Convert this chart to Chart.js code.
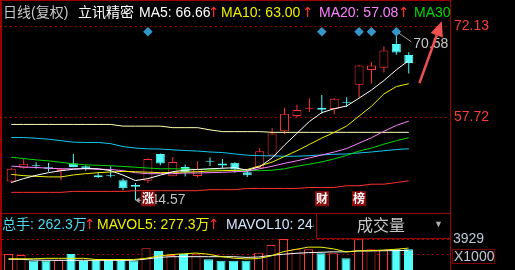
<!DOCTYPE html>
<html>
<head>
<meta charset="utf-8">
<title>立讯精密 日线</title>
<script src="https://cdn.jsdelivr.net/npm/chart.js@4.4.1/dist/chart.umd.min.js"></script>
<style>
  html, body { margin: 0; padding: 0; background: #000; }
  #wrap { position: relative; width: 515px; height: 270px; overflow: hidden; background: #000;
          font-family: "Liberation Sans", Arial, "Noto Sans CJK SC", sans-serif; font-size: 14px; }
  canvas { position: absolute; left: 0; }
  #main { top: 0; }
  #vol { top: 213px; }
  .row { position: absolute; overflow: hidden; }
  .t { position: absolute; white-space: nowrap; line-height: 14px; }
  .up { color: #ff3030; font-family: "DejaVu Sans", sans-serif; font-size: 14px; }
  .ln { position: absolute; background: #a00000; }
</style>
</head>
<body>
<div id="wrap">
  <canvas id="main" width="515" height="213"></canvas>
  <canvas id="vol" width="515" height="57"></canvas>

  <!-- frame -->
  <div class="ln" style="left:0;top:0;width:2px;height:270px"></div>
  <div class="ln" style="left:0;top:0;width:451px;height:1px"></div>
  <div class="ln" style="left:450px;top:0;width:1px;height:270px"></div>
  <div class="ln" style="left:0;top:213px;width:450px;height:1px"></div>
  <div class="ln" style="left:316px;top:213px;width:1px;height:25px"></div>
  <div class="ln" style="left:316px;top:238px;width:134px;height:1px"></div>

  <!-- price header -->
  <div class="row" style="left:0;top:0;width:450px;height:25px">
    <div class="t" style="left:3px;top:5px;color:#c8c8c8">日线(复权)</div>
    <div class="t" style="left:78px;top:5px;color:#fff">立讯精密</div>
    <div class="t" id="h-ma5" style="left:139px;top:5px;color:#fff"></div>
    <div class="t up" style="left:208px;top:5px">↑</div>
    <div class="t" id="h-ma10" style="left:221px;top:5px;color:#f0f000"></div>
    <div class="t up" style="left:302px;top:5px">↑</div>
    <div class="t" id="h-ma20" style="left:319px;top:5px;color:#ff80ff"></div>
    <div class="t up" style="left:398px;top:5px">↑</div>
    <div class="t" style="left:414px;top:5px;color:#00d800">MA30</div>
  </div>

  <!-- volume header -->
  <div class="row" style="left:0;top:214px;width:314px;height:24px">
    <div class="t" id="h-vol" style="left:2px;top:3px;color:#50d8f0"></div>
    <div class="t up" style="left:84px;top:3px">↑</div>
    <div class="t" id="h-mavol5" style="left:97px;top:3px;color:#f0f000"></div>
    <div class="t up" style="left:208px;top:3px">↑</div>
    <div class="t" id="h-mavol10" style="left:226px;top:3px;color:#d0e4ff"></div>
  </div>
  <div class="t" style="left:357px;top:218px;font-size:16px;line-height:16px;color:#c8c8c8">成交量</div>
  <div class="t" style="left:434px;top:220px;font-size:9px;line-height:9px;color:#b0b0b0">▼</div>

  <div class="t" style="left:452px;top:249px;width:43px;height:15px;box-sizing:border-box;border:1px solid #800000;color:#c0c8d0;padding-left:1px;line-height:13px">X1000</div>
</div>

<script>
// ── price data, one entry per trading day (oldest first)
const openP  = [47.53, 49.71, 50.02, 49.79, 49.16, 50.41, 49.94, 48.51, 48.46, 47.73, 46.98, 47.64, 51.89, 48.38, 49.82, 48.42, 50.72, 50.38, 50.49, 49.01, 49.71, 51.65, 55.47, 57.91, 59.05, 59.21, 59.00, 60.06, 62.83, 65.17, 65.54, 69.28, 67.54];
const highP  = [49.71, 51.11, 50.56, 50.49, 49.55, 51.89, 50.10, 49.01, 49.94, 47.99, 47.29, 51.19, 51.97, 51.42, 50.22, 50.75, 51.34, 51.11, 50.56, 49.19, 52.82, 55.94, 59.21, 59.67, 60.72, 61.23, 60.76, 60.87, 65.98, 66.42, 68.91, 70.58, 67.97];
const lowP   = [47.37, 49.55, 49.55, 49.08, 47.73, 49.79, 49.24, 48.07, 48.15, 46.20, 44.57, 47.29, 50.10, 48.35, 48.31, 48.15, 49.97, 49.60, 48.93, 48.26, 49.63, 51.62, 55.00, 57.65, 58.54, 58.27, 58.19, 59.32, 60.76, 63.05, 64.76, 67.57, 64.61];
const closeP = [49.55, 50.33, 49.94, 49.55, 49.47, 49.82, 49.55, 48.23, 48.38, 46.48, 46.70, 51.11, 50.38, 50.60, 49.01, 49.47, 50.64, 50.07, 49.44, 48.51, 52.31, 55.11, 58.24, 58.85, 59.10, 58.89, 60.61, 59.98, 65.90, 65.90, 68.24, 67.93, 66.29];

// ── moving averages as drawn
const ma5   = [47.37, 47.99, 48.51, 48.93, 49.24, 49.47, 49.60, 49.55, 49.24, 48.54, 47.68, 47.99, 48.54, 49.08, 49.35, 49.44, 49.55, 49.63, 49.71, 49.32, 49.86, 51.26, 53.29, 55.16, 57.03, 58.43, 59.05, 59.47, 60.72, 62.00, 63.50, 65.20, 66.66];
const ma10  = [48.66, 48.46, 48.35, 48.26, 48.26, 48.57, 48.77, 48.93, 49.04, 49.13, 49.08, 49.01, 48.93, 48.98, 49.04, 49.08, 49.19, 49.24, 49.29, 49.44, 50.00, 50.60, 51.50, 52.40, 53.40, 54.40, 55.30, 56.30, 57.88, 59.44, 61.39, 62.55, 63.00];
const ma20  = [49.97, 49.82, 49.75, 49.63, 49.55, 49.55, 49.55, 49.47, 49.44, 49.24, 48.93, 48.77, 48.77, 48.77, 48.88, 48.88, 48.93, 48.98, 49.08, 49.16, 49.55, 49.94, 50.41, 50.80, 51.26, 51.73, 52.20, 52.74, 53.60, 54.46, 55.47, 56.40, 57.08];
const ma30  = [51.37, 51.16, 50.95, 50.80, 50.56, 50.33, 50.17, 50.10, 50.02, 49.91, 49.79, 49.66, 49.55, 49.55, 49.51, 49.44, 49.40, 49.32, 49.29, 49.24, 49.24, 49.32, 49.55, 49.94, 50.28, 50.64, 51.11, 51.65, 52.35, 52.82, 53.44, 53.99, 54.46];
const ma60  = [54.49, 54.49, 54.38, 54.22, 53.99, 53.76, 53.71, 53.71, 53.52, 53.06, 52.82, 52.70, 52.67, 52.54, 52.43, 52.35, 52.20, 52.12, 51.89, 51.69, 51.62, 51.58, 51.53, 51.53, 51.62, 51.73, 51.84, 51.89, 52.04, 52.20, 52.40, 52.59, 52.71];
const ma120 = [56.56, 56.56, 56.56, 56.56, 56.56, 56.56, 56.56, 56.56, 56.56, 56.29, 56.29, 56.29, 56.29, 56.05, 56.05, 56.05, 55.70, 55.42, 55.42, 55.42, 55.42, 55.31, 55.31, 55.31, 55.31, 55.31, 55.31, 55.31, 55.31, 55.31, 55.31, 55.31, 55.31];
const ma250 = [45.82, 45.82, 45.82, 45.82, 45.82, 45.97, 45.97, 45.97, 45.97, 45.97, 46.08, 46.08, 46.08, 46.08, 46.08, 46.08, 46.24, 46.24, 46.24, 46.44, 46.44, 46.44, 46.44, 46.44, 46.59, 46.59, 46.59, 46.86, 46.86, 47.11, 47.11, 47.37, 47.64];

// ── volume (x1000 lots) and its averages
const volume  = [2028, 1901, 1204, 1204, 1267, 2028, 1141, 1331, 1331, 1331, 1204, 2750, 2408, 1901, 2028, 1990, 1356, 1179, 1179, 1179, 2193, 3169, 3929, 2624, 2624, 2117, 2117, 1483, 3890, 2624, 2535, 2624, 2623];
const volMa5  = [1420, 1420, 1420, 1480, 1480, 1480, 1480, 1330, 1330, 1330, 1330, 1480, 1770, 1950, 2050, 2150, 2000, 1700, 1500, 1400, 1450, 1780, 2330, 2620, 2900, 2890, 2680, 2300, 2450, 2450, 2530, 2630, 2773];
const volMa10 = [1356, 1356, 1267, 1229, 1229, 1229, 1229, 1229, 1229, 1229, 1229, 1394, 1584, 1686, 1686, 1686, 1686, 1686, 1686, 1600, 1648, 1850, 2000, 2117, 2200, 2250, 2300, 2300, 2400, 2420, 2440, 2460, 2480];

// ── axes and markers
const priceMin = 43.31, priceMax = 72.13;
const priceTicks = [57.72, 72.13];
const volMax = 3929;
const volTicks = [volMax / 2, volMax];
const eventDays = [11, 25, 28, 29, 31];
const eventMarkY = 71.23;
const badges = [{ day: 11, text: '涨' }, { day: 25, text: '财' }, { day: 28, text: '榜' }];
const hiDay = 31, loDay = 10;
const trendArrow = { from: { x: 32.86, y: 63.10 }, to: { x: 34.66, y: 72.90 } };

const RED = '#ff3232', CYAN = '#54fcfc';
const FONT = '"Liberation Sans", Arial, sans-serif';
const days = openP.map((_, i) => i);
const isUp = i => closeP[i] >= openP[i];
const edgeColor = days.map(i => isUp(i) ? RED : CYAN);
const fillColor = days.map(i => isUp(i) ? '#000000' : CYAN);

// ── header texts from the data
const wan = v => (v / 10).toFixed(1) + '万';
document.getElementById('h-ma5').textContent = 'MA5: ' + ma5.at(-1).toFixed(2);
document.getElementById('h-ma10').textContent = 'MA10: ' + ma10.at(-1).toFixed(2);
document.getElementById('h-ma20').textContent = 'MA20: ' + ma20.at(-1).toFixed(2);
document.getElementById('h-vol').textContent = '总手: ' + wan(volume.at(-1));
document.getElementById('h-mavol5').textContent = 'MAVOL5: ' + wan(volMa5.at(-1));
document.getElementById('h-mavol10').textContent = 'MAVOL10: ' + wan(volMa10.at(-1));

const xAxis = () => ({ type: 'linear', display: false, offset: false, min: -0.52, max: 35.32, grid: { display: false } });

const line = (values, color, order) => ({
  type: 'line', data: values.map((v, i) => ({ x: i, y: v })),
  borderColor: color, borderWidth: 1, pointRadius: 0, tension: 0, order
});

const rightAxis = (min, max, ticks, color, pad, label) => ({
  position: 'right', min, max, beginAtZero: false,
  afterBuildTicks: s => { s.ticks = ticks.map(v => ({ value: v })); },
  afterFit: s => { s.width = 65; s.paddingTop = 0; s.paddingBottom = 0; },
  grid: { color: '#a00000', lineWidth: 1, drawTicks: false },
  border: { display: false, dash: [2, 3] },
  ticks: { color, padding: pad, autoSkip: false, font: { size: 14, family: FONT }, callback: label }
});

// annotations: high/low labels, event badges, trend arrow
const marks = {
  id: 'marks',
  afterDatasetsDraw(chart) {
    const { ctx, chartArea, scales: { x, y } } = chart;
    ctx.save();
    ctx.font = '14px ' + FONT;
    ctx.textBaseline = 'middle';

    // high
    const hx = x.getPixelForValue(hiDay), hy = y.getPixelForValue(highP[hiDay]);
    ctx.strokeStyle = '#a0a0a0'; ctx.lineWidth = 1;
    ctx.beginPath(); ctx.moveTo(hx + 2, hy - 3); ctx.lineTo(hx + 15, hy + 6); ctx.stroke();
    ctx.fillStyle = '#c8c8c8';
    ctx.fillText(highP[hiDay].toFixed(2), hx + 17, hy + 8);

    // low
    const lx = x.getPixelForValue(loDay), ly = y.getPixelForValue(lowP[loDay]);
    ctx.fillStyle = '#a8a8a8';
    ctx.fillRect(lx + 3, ly - 0.5, 5, 1);
    ctx.beginPath(); ctx.moveTo(lx, ly); ctx.lineTo(lx + 4, ly - 3); ctx.lineTo(lx + 4, ly + 3); ctx.fill();
    ctx.fillStyle = '#c0c0c0';
    ctx.fillText(lowP[loDay].toFixed(2), lx + 15, ly);

    // event badges along the bottom
    ctx.textAlign = 'center';
    ctx.font = 'bold 12px "Noto Sans CJK SC", sans-serif';
    badges.forEach(b => {
      const bx = Math.round(x.getPixelForValue(b.day));
      ctx.fillStyle = '#8c0c0c';
      ctx.fillRect(bx - 7, chartArea.bottom - 17, 14, 15);
      ctx.fillStyle = '#ffffff';
      ctx.fillText(b.text, bx, chartArea.bottom - 9.5);
    });

    // trend arrow
    const ax = x.getPixelForValue(trendArrow.from.x), ay = y.getPixelForValue(trendArrow.from.y);
    const bx = x.getPixelForValue(trendArrow.to.x), by = y.getPixelForValue(trendArrow.to.y);
    const a = Math.atan2(by - ay, bx - ax), head = 15, half = 6.5;
    const hbx = bx - Math.cos(a) * head, hby = by - Math.sin(a) * head;
    ctx.strokeStyle = '#f05050'; ctx.fillStyle = '#f05050'; ctx.lineWidth = 2.5;
    ctx.beginPath(); ctx.moveTo(ax, ay); ctx.lineTo(hbx, hby); ctx.stroke();
    ctx.beginPath();
    ctx.moveTo(bx, by);
    ctx.lineTo(hbx + Math.sin(a) * half, hby - Math.cos(a) * half);
    ctx.lineTo(hbx - Math.sin(a) * half, hby + Math.cos(a) * half);
    ctx.closePath(); ctx.fill();
    ctx.restore();
  }
};

new Chart(document.getElementById('main'), {
  type: 'bar',
  data: {
    datasets: [
      { data: days.map(i => ({ x: i, y: [lowP[i], highP[i]] })), backgroundColor: edgeColor,
        barThickness: 1, grouped: false, inflateAmount: 0, borderWidth: 0, order: 20 },
      { data: days.map(i => ({ x: i, y: [openP[i], closeP[i]] })), backgroundColor: fillColor,
        borderColor: edgeColor, borderWidth: 1, borderSkipped: false, barThickness: 9, minBarLength: 1,
        grouped: false, inflateAmount: 0, order: 19 },
      line(ma250, '#ff3030', 8),
      line(ma120, '#ffffb4', 7),
      line(ma60, '#10c8f0', 6),
      line(ma30, '#00d800', 5),
      line(ma20, '#ff80ff', 4),
      line(ma10, '#f0f000', 3),
      line(ma5, '#ffffff', 2),
      { type: 'scatter', data: eventDays.map(i => ({ x: i, y: eventMarkY })), pointStyle: 'rectRot',
        pointRadius: 4.8, backgroundColor: '#3596c8', borderWidth: 0, order: 0 }
    ]
  },
  options: {
    responsive: false, animation: false, events: [],
    layout: { padding: { left: 2, top: 26, right: 0, bottom: 1 } },
    plugins: { legend: { display: false }, tooltip: { enabled: false } },
    scales: {
      x: xAxis(),
      y: rightAxis(priceMin, priceMax, priceTicks, '#ff3c3c', 4, v => v.toFixed(2))
    }
  },
  plugins: [marks]
});

new Chart(document.getElementById('vol'), {
  type: 'bar',
  data: {
    datasets: [
      { data: days.map(i => ({ x: i, y: volume[i] })), backgroundColor: fillColor, borderColor: edgeColor,
        borderWidth: 1, borderSkipped: 'start', barThickness: 9, grouped: false, inflateAmount: 0, order: 10 },
      line(volMa10, '#ffffff', 2),
      line(volMa5, '#f0f000', 1)
    ]
  },
  options: {
    responsive: false, animation: false, events: [],
    layout: { padding: { left: 2, top: 26, right: 0, bottom: 0 } },
    plugins: { legend: { display: false }, tooltip: { enabled: false } },
    scales: {
      x: xAxis(),
      y: rightAxis(0, volMax, volTicks, '#b8c8d8', 3, v => v === volMax ? String(v) : '')
    }
  }
});
</script>
</body>
</html>
